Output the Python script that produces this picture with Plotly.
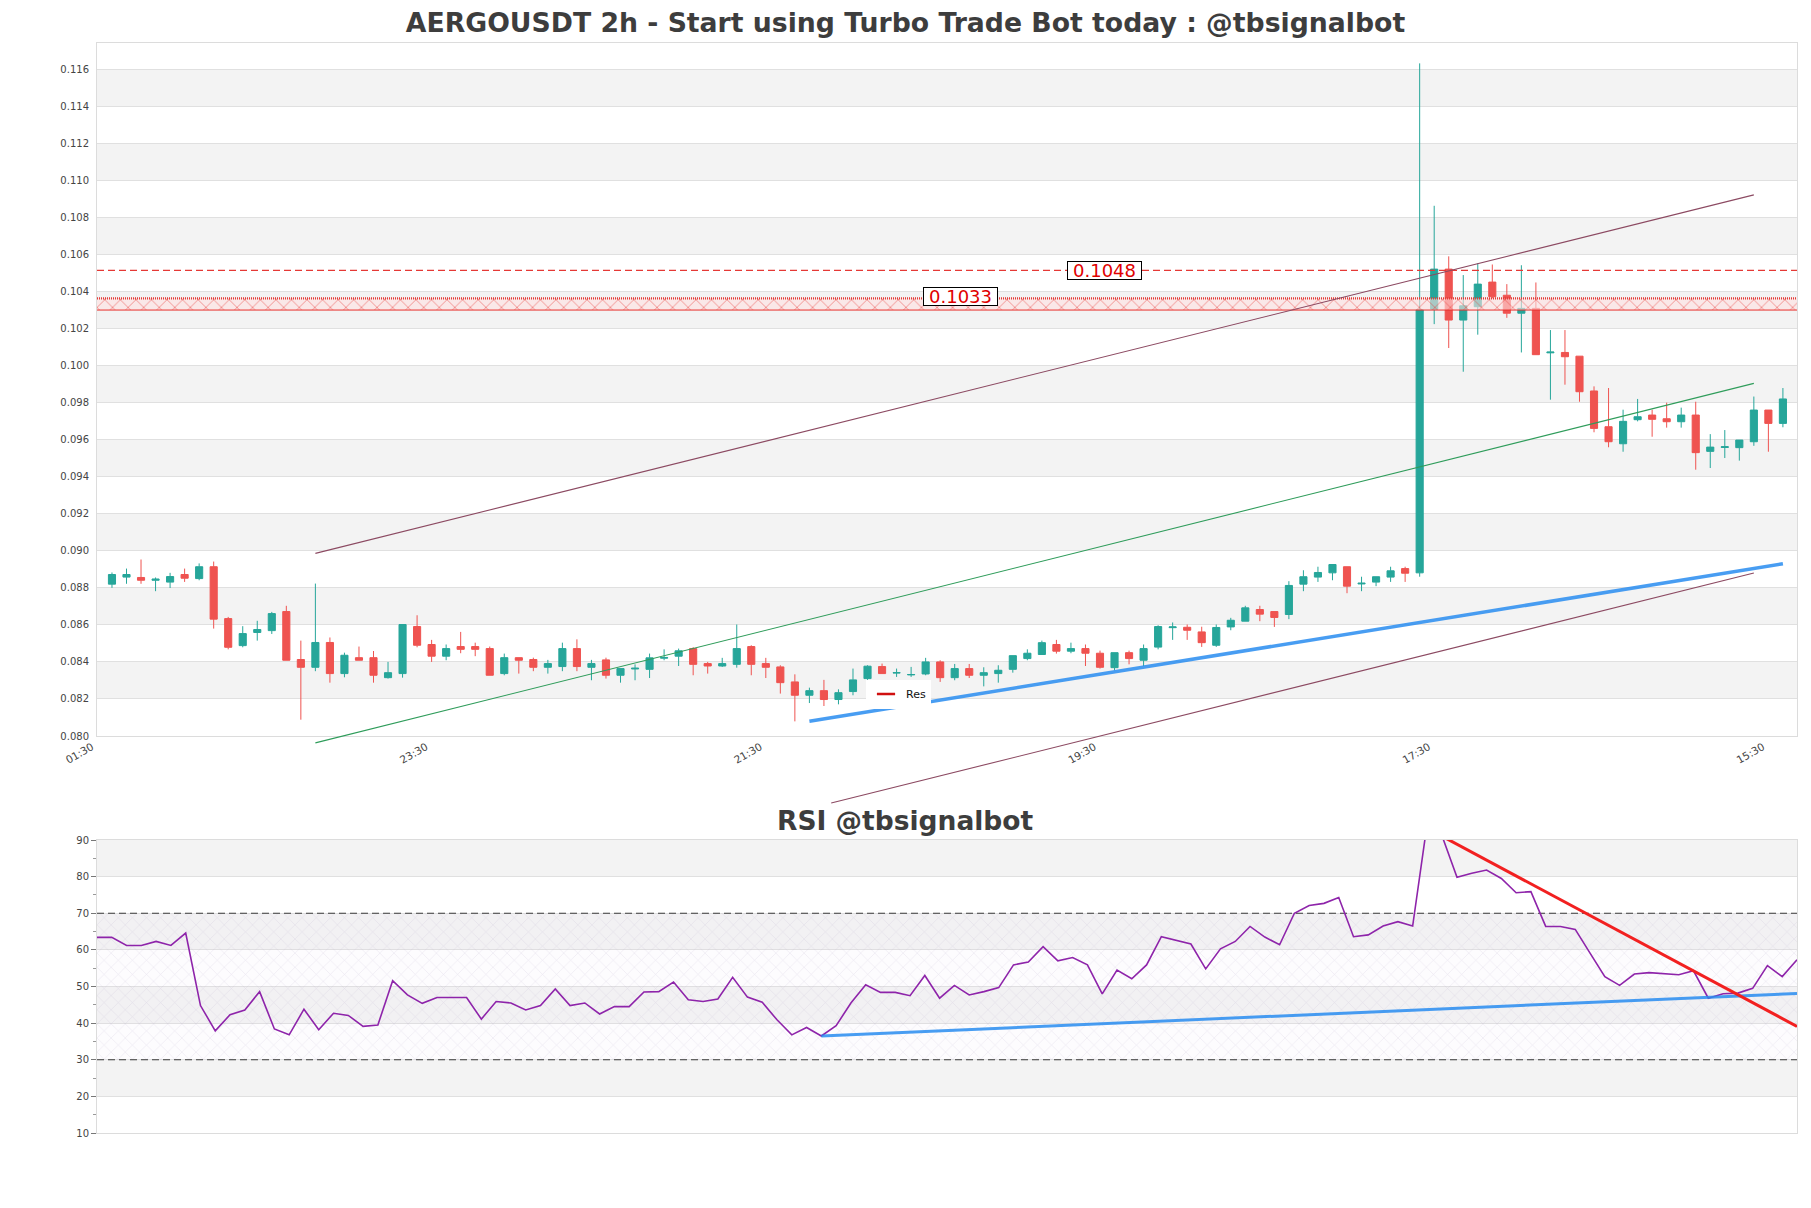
import plotly.graph_objects as go

# ---------------- data ----------------
candle_idx = list(range(116))
opens = [0.08820,0.08858,0.08856,0.08841,0.08831,0.08872,0.08850,0.08914,0.08634,0.08488,
         0.08559,0.08569,0.08672,0.08413,0.08371,0.08505,0.08337,0.08423,0.08423,0.08315,
         0.08337,0.08591,0.08494,0.08431,0.08483,0.08483,0.08472,0.08337,0.08423,0.08413,
         0.08371,0.08375,0.08472,0.08371,0.08411,0.08328,0.08362,0.08360,0.08420,0.08431,
         0.08472,0.08391,0.08378,0.08387,0.08483,0.08391,0.08373,0.08292,0.08220,0.08245,
         0.08197,0.08240,0.08310,0.08375,0.08340,0.08330,0.08335,0.08400,0.08315,0.08364,
         0.08328,0.08337,0.08360,0.08418,0.08440,0.08494,0.08458,0.08472,0.08447,0.08369,
         0.08450,0.08409,0.08480,0.08585,0.08587,0.08562,0.08490,0.08589,0.08620,0.08683,
         0.08672,0.08656,0.08820,0.08858,0.08881,0.08914,0.08821,0.08831,0.08858,0.08904,
         0.08881,0.10305,0.10521,0.10246,0.10318,0.10451,0.10380,0.10283,0.10309,0.10069,
         0.10071,0.10051,0.09863,0.09670,0.09578,0.09708,0.09733,0.09713,0.09697,0.09733,
         0.09537,0.09558,0.09557,0.09589,0.09760,0.09688]
highs = [0.08883,0.08904,0.08953,0.08856,0.08881,0.08904,0.08932,0.08942,0.08643,0.08593,
         0.08622,0.08670,0.08703,0.08515,0.08823,0.08532,0.08450,0.08483,0.08459,0.08400,
         0.08602,0.08652,0.08519,0.08494,0.08562,0.08504,0.08483,0.08445,0.08423,0.08423,
         0.08411,0.08504,0.08522,0.08411,0.08423,0.08364,0.08387,0.08445,0.08468,0.08472,
         0.08480,0.08400,0.08422,0.08602,0.08490,0.08422,0.08382,0.08333,0.08261,0.08303,
         0.08252,0.08364,0.08382,0.08391,0.08364,0.08373,0.08422,0.08409,0.08389,0.08389,
         0.08371,0.08382,0.08434,0.08468,0.08515,0.08519,0.08504,0.08494,0.08461,0.08450,
         0.08461,0.08494,0.08598,0.08613,0.08602,0.08590,0.08602,0.08638,0.08703,0.08703,
         0.08672,0.08836,0.08895,0.08914,0.08926,0.08914,0.08860,0.08860,0.08914,0.08914,
         0.11632,0.10863,0.10590,0.10489,0.10553,0.10546,0.10440,0.10542,0.10449,0.10192,
         0.10192,0.10051,0.09888,0.09879,0.09762,0.09820,0.09762,0.09800,0.09773,0.09805,
         0.09630,0.09652,0.09598,0.09833,0.09760,0.09879]
lows = [0.08800,0.08822,0.08822,0.08782,0.08799,0.08832,0.08841,0.08580,0.08468,0.08479,
        0.08515,0.08551,0.08409,0.08088,0.08350,0.08288,0.08317,0.08409,0.08288,0.08310,
        0.08315,0.08479,0.08400,0.08409,0.08447,0.08431,0.08328,0.08328,0.08337,0.08350,
        0.08337,0.08350,0.08350,0.08301,0.08310,0.08288,0.08301,0.08313,0.08409,0.08378,
        0.08328,0.08337,0.08373,0.08369,0.08328,0.08313,0.08229,0.08079,0.08178,0.08162,
        0.08171,0.08220,0.08303,0.08337,0.08319,0.08319,0.08328,0.08292,0.08301,0.08313,
        0.08268,0.08288,0.08342,0.08409,0.08440,0.08445,0.08447,0.08378,0.08364,0.08355,
        0.08387,0.08377,0.08468,0.08519,0.08519,0.08481,0.08481,0.08571,0.08620,0.08620,
        0.08589,0.08631,0.08782,0.08832,0.08841,0.08771,0.08782,0.08809,0.08832,0.08832,
        0.08860,0.10224,0.10095,0.09967,0.10167,0.10363,0.10258,0.10071,0.10059,0.09816,
        0.09897,0.09805,0.09640,0.09559,0.09535,0.09699,0.09616,0.09665,0.09665,0.09438,
        0.09447,0.09501,0.09487,0.09567,0.09535,0.09667]
closes = [0.08872,0.08872,0.08841,0.08847,0.08861,0.08852,0.08914,0.08631,0.08479,0.08553,
          0.08575,0.08661,0.08409,0.08371,0.08505,0.08337,0.08436,0.08409,0.08328,0.08342,
          0.08602,0.08490,0.08431,0.08472,0.08468,0.08468,0.08328,0.08423,0.08409,0.08371,
          0.08391,0.08472,0.08375,0.08391,0.08328,0.08364,0.08366,0.08422,0.08424,0.08460,
          0.08387,0.08378,0.08391,0.08472,0.08387,0.08371,0.08288,0.08220,0.08245,0.08197,
          0.08234,0.08303,0.08377,0.08337,0.08342,0.08332,0.08400,0.08315,0.08364,0.08328,
          0.08342,0.08355,0.08434,0.08447,0.08504,0.08458,0.08472,0.08447,0.08371,0.08450,
          0.08418,0.08472,0.08591,0.08589,0.08571,0.08504,0.08586,0.08625,0.08692,0.08658,
          0.08640,0.08813,0.08860,0.08883,0.08926,0.08809,0.08825,0.08860,0.08892,0.08879,
          0.10301,0.10521,0.10246,0.10323,0.10440,0.10372,0.10283,0.10309,0.10059,0.10073,
          0.10048,0.09859,0.09661,0.09589,0.09699,0.09724,0.09710,0.09697,0.09733,0.09530,
          0.09560,0.09562,0.09598,0.09760,0.09688,0.09820]

rsi = [63.4,63.4,61.2,61.2,62.3,61.2,64.6,44.8,37.9,42.3,
       43.6,48.6,38.4,36.8,43.8,38.2,42.7,42.1,39.1,39.5,
       51.6,47.7,45.4,47.0,47.0,47.0,41.1,45.9,45.5,43.6,
       44.8,49.3,44.8,45.5,42.5,44.5,44.5,48.5,48.6,51.2,
       46.4,45.9,46.6,52.5,47.1,45.7,40.9,36.8,38.8,36.5,
       39.3,45.5,50.5,48.4,48.4,47.5,53.0,46.8,50.3,47.7,
       48.6,49.7,55.9,56.7,60.9,57.0,57.9,55.9,48.0,54.5,
       52.1,55.9,63.6,62.5,61.6,54.8,60.3,62.3,66.4,63.5,
       61.4,70.0,72.1,72.7,74.3,63.6,64.1,66.5,67.7,66.5,
       95.0,91.0,79.8,80.9,81.8,79.5,75.6,75.9,66.4,66.4,
       65.6,59.1,52.7,50.3,53.4,53.8,53.6,53.2,54.3,46.8,
       48.0,48.2,49.5,55.7,52.7,57.3]
rsi_idx = list(range(len(rsi)))

tick_idx = [0, 23, 46, 69, 92, 115]
tick_labels = ["01:30", "23:30", "21:30", "19:30", "17:30", "15:30"]

channel_x = [14, 113]
channel_upper = [0.08986, 0.10922]
channel_mid = [0.07963, 0.09904]
channel_lower_x = [49.5, 113]
channel_lower = [0.07638, 0.08880]
support_x = [48, 115]
support_y = [0.0808, 0.0893]

resistance_level = 0.10514
resistance_label = "0.1048"
zone_low = 0.1030
zone_high = 0.10363
zone_label = "0.1033"

rsi_support_x = [49, 115]
rsi_support_y = [36.5, 48.1]
rsi_res_x = [91, 115]
rsi_res_y = [91.0, 39.1]

# ---------------- layout geometry ----------------
W, H = 1811, 1208
ML, MR, MT, MB = 97, 14, 43, 75
plot_h = H - MT - MB
main_bottom_px = 736
rsi_top_px = 840
ext_bottom_px = 815
dom_main = [(H - MB - main_bottom_px) / plot_h, 1.0]
dom_rsi = [0.0, (H - MB - rsi_top_px) / plot_h]
dom_ext = [(H - MB - ext_bottom_px) / plot_h, 1.0]

x_lo, x_hi = -1.03, 115.97
y_lo, y_hi = 0.080, 0.11742
ext_lo = y_lo - (dom_main[0] - dom_ext[0]) / (dom_main[1] - dom_main[0]) * (y_hi - y_lo)

GREEN = "#26a69a"
RED = "#ef5350"
BAND = "#f3f3f3"
GRID = "#e0e0e0"
TXT = "#444444"

fig = go.Figure()

# red zone (hatched)
fig.add_trace(go.Scatter(
    x=[x_lo, x_hi, x_hi, x_lo, x_lo], y=[zone_low, zone_low, zone_high, zone_high, zone_low],
    mode="lines", line=dict(width=0), fill="toself", fillcolor="rgba(255,225,225,0.6)",
    fillpattern=dict(shape="x", fgcolor="#e8302c", size=11, solidity=0.16, fillmode="overlay"),
    showlegend=False, hoverinfo="skip", xaxis="x", yaxis="y"))
fig.add_trace(go.Scatter(
    x=[x_lo, x_hi], y=[zone_high, zone_high], mode="lines",
    line=dict(color="#e53935", width=2.2, dash="1px,1px"),
    showlegend=False, hoverinfo="skip", xaxis="x", yaxis="y"))
fig.add_trace(go.Scatter(
    x=[x_lo, x_hi], y=[zone_low, zone_low], mode="lines",
    line=dict(color="#e8302c", width=1), name="Res",
    showlegend=False, hoverinfo="skip", xaxis="x", yaxis="y"))
# dashed resistance
fig.add_trace(go.Scatter(
    x=[x_lo, x_hi], y=[resistance_level, resistance_level], mode="lines",
    line=dict(color="#e53935", width=1.4, dash="7px,4px"), name="Res",
    showlegend=False, hoverinfo="skip", xaxis="x", yaxis="y"))
# legend entry for the resistance set (short line glyph)
fig.add_trace(go.Scatter(
    x=[None], y=[None], mode="markers", name="Res",
    marker=dict(symbol="line-ew", size=13, color="#d01010", line=dict(color="#d01010", width=2.5)),
    showlegend=True, hoverinfo="skip", xaxis="x", yaxis="y"))

# candles
fig.add_trace(go.Candlestick(
    x=candle_idx, open=opens, high=highs, low=lows, close=closes,
    increasing=dict(line=dict(color=GREEN, width=1), fillcolor=GREEN),
    decreasing=dict(line=dict(color=RED, width=1), fillcolor=RED),
    whiskerwidth=0, showlegend=False, xaxis="x", yaxis="y"))

# support line
fig.add_trace(go.Scatter(
    x=support_x, y=support_y, mode="lines",
    line=dict(color="rgba(40,140,240,0.85)", width=3.5),
    showlegend=False, hoverinfo="skip", xaxis="x", yaxis="y"))

# channel lines on extended (unclipped-below) axis
for xs, ys, col in [(channel_x, channel_upper, "#8c4a62"),
                    (channel_x, channel_mid, "#2e9c5a"),
                    (channel_lower_x, channel_lower, "#8c4a62")]:
    fig.add_trace(go.Scatter(
        x=xs, y=ys, mode="lines", line=dict(color=col, width=1.1),
        showlegend=False, hoverinfo="skip", xaxis="x", yaxis="y3"))

# RSI hatch zone
fig.add_trace(go.Scatter(
    x=[rsi_idx[0], rsi_idx[-1], rsi_idx[-1], rsi_idx[0], rsi_idx[0]], y=[30, 30, 70, 70, 30],
    mode="lines", line=dict(width=0), fill="toself", fillcolor="rgba(225,210,240,0.08)",
    fillpattern=dict(shape="x", fgcolor="rgba(175,160,195,0.55)", size=10, solidity=0.1,
                     fillmode="overlay"),
    showlegend=False, hoverinfo="skip", xaxis="x2", yaxis="y2"))
for lvl in (70, 30):
    fig.add_trace(go.Scatter(
        x=[rsi_idx[0], rsi_idx[-1]], y=[lvl, lvl], mode="lines",
        line=dict(color="#3a3a3a", width=1.2, dash="7px,4px"),
        showlegend=False, hoverinfo="skip", xaxis="x2", yaxis="y2"))
fig.add_trace(go.Scatter(
    x=rsi_idx, y=rsi, mode="lines", line=dict(color="#8e24aa", width=1.6),
    showlegend=False, hoverinfo="skip", xaxis="x2", yaxis="y2"))
fig.add_trace(go.Scatter(
    x=rsi_support_x, y=rsi_support_y, mode="lines",
    line=dict(color="rgba(40,140,240,0.85)", width=3),
    showlegend=False, hoverinfo="skip", xaxis="x2", yaxis="y2"))
fig.add_trace(go.Scatter(
    x=rsi_res_x, y=rsi_res_y, mode="lines", line=dict(color="#f22020", width=3),
    showlegend=False, hoverinfo="skip", xaxis="x2", yaxis="y2"))

# background bands
shapes = []
v = 0.082
while v < 0.1165:
    shapes.append(dict(type="rect", xref="x domain", yref="y", x0=0, x1=1, y0=v, y1=v + 0.002,
                       fillcolor=BAND, line=dict(width=0), layer="below"))
    v += 0.004
for b in (20, 40, 60, 80):
    shapes.append(dict(type="rect", xref="x2 domain", yref="y2", x0=0, x1=1, y0=b, y1=b + 10,
                       fillcolor=BAND, line=dict(width=0), layer="below"))

label_font = dict(family="DejaVu Sans", size=18, color="#e00000")
annotations = [
    dict(x=68.3, y=resistance_level, xref="x", yref="y", text=resistance_label, showarrow=False,
         font=label_font, bgcolor="white", bordercolor="black", borderwidth=1, borderpad=0,
         width=73, height=17),
    dict(x=58.4, y=zone_high + 0.0001, xref="x", yref="y", text=zone_label, showarrow=False,
         font=label_font, bgcolor="white", bordercolor="black", borderwidth=1, borderpad=0,
         width=73, height=17),
    dict(x=(W / 2 - ML) / (W - ML - MR), y=(H - MB - 820) / plot_h, xref="paper", yref="paper",
         text="<b>RSI @tbsignalbot</b>", showarrow=False, yanchor="middle",
         font=dict(family="DejaVu Sans", size=26.5, color="#3d3d3d")),
]

axis_common = dict(showline=True, linecolor="#dcdcdc", linewidth=1, mirror=True, zeroline=False)

fig.update_layout(
    width=W, height=H,
    margin=dict(l=ML, r=MR, t=MT, b=MB),
    paper_bgcolor="white", plot_bgcolor="rgba(0,0,0,0)",
    font=dict(family="DejaVu Sans", color=TXT, size=10),
    title=dict(text="<b>AERGOUSDT 2h - Start using Turbo Trade Bot today : @tbsignalbot</b>",
               x=0.5, xref="container", xanchor="center",
               y=1 - 23 / H, yref="container", yanchor="middle",
               font=dict(family="DejaVu Sans", size=26.7, color="#3d3d3d")),
    xaxis=dict(domain=[0, 1], range=[x_lo, x_hi], anchor="y", showgrid=False,
               tickmode="array", tickvals=tick_idx, ticktext=tick_labels, tickangle=-30,
               ticks="", ticklabelshift=-20, tickfont=dict(size=10.5, color=TXT),
               rangeslider=dict(visible=False), **axis_common),
    yaxis=dict(domain=dom_main, range=[y_lo, y_hi], anchor="x", showgrid=True, gridcolor=GRID,
               tickmode="linear", tick0=0.080, dtick=0.002, tickformat=".3f",
               ticks="outside", ticklen=5, tickcolor="rgba(0,0,0,0)",
               tickfont=dict(size=10, color=TXT), **axis_common),
    yaxis3=dict(domain=dom_ext, range=[ext_lo, y_hi], anchor="x", visible=False,
                showgrid=False, zeroline=False),
    xaxis2=dict(domain=[0, 1], range=[rsi_idx[0], rsi_idx[-1]], anchor="y2", showgrid=False,
                showticklabels=False, ticks="", **axis_common),
    yaxis2=dict(domain=dom_rsi, range=[10, 90], anchor="x2", showgrid=True, gridcolor=GRID,
                tickmode="linear", tick0=10, dtick=10, ticks="outside", ticklen=5,
                tickcolor="#777777", tickfont=dict(size=10, color=TXT),
                minor=dict(dtick=5, ticks="outside", ticklen=3, tickcolor="#999999", showgrid=False),
                **axis_common),
    shapes=shapes, annotations=annotations,
    showlegend=True,
    legend=dict(x=(866 - ML) / (W - ML - MR), y=(H - MB - 694) / plot_h, xanchor="left",
                yanchor="middle", bgcolor="white", borderwidth=0, itemwidth=30,
                font=dict(size=11, color="#111111")),
)

fig.write_html("out.html")
